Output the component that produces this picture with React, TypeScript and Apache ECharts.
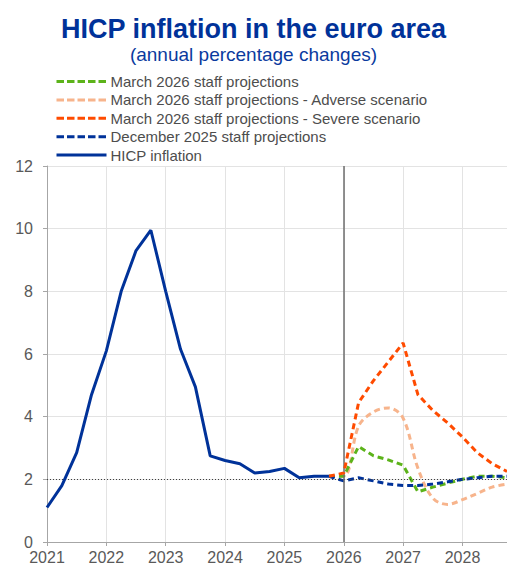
import React, { useEffect, useRef } from "react";
import * as echarts from "echarts";

// Quarterly observations, placed at the start of each quarter
const hicpStart = "2021Q1";
const hicpValues = [1.1, 1.8, 2.85, 4.7, 6.1, 8.0, 9.3, 9.95, 8.0, 6.15, 4.95, 2.75, 2.6, 2.5, 2.2, 2.25, 2.35, 2.05, 2.1, 2.1];

const projStart = "2025Q4";
const march2026 = [2.1, 2.1, 3.05, 2.75, 2.62, 2.45, 1.6, 1.75, 1.88, 2.0, 2.1, 2.1, 2.05];
const adverse = [2.1, 2.1, 3.7, 4.15, 4.28, 3.95, 2.35, 1.4, 1.2, 1.35, 1.55, 1.75, 1.85];
const severe = [2.1, 2.2, 4.45, 5.15, 5.75, 6.35, 4.7, 4.2, 3.8, 3.35, 2.85, 2.5, 2.25];
const december2025 = [2.1, 1.95, 2.05, 1.95, 1.85, 1.8, 1.8, 1.85, 1.92, 2.0, 2.05, 2.1, 2.1];

const seriesNames = [
  "March 2026 staff projections",
  "March 2026 staff projections - Adverse scenario",
  "March 2026 staff projections - Severe scenario",
  "December 2025 staff projections",
  "HICP inflation",
];
const colors = ["#5CB31A", "#F7B48C", "#FF4B00", "#003299", "#003299"];
const isDashed = [true, true, true, true, false];

const yTicks = [0, 2, 4, 6, 8, 10, 12];
const xYears = [2021, 2022, 2023, 2024, 2025, 2026, 2027, 2028];
const xMaxQuarter = "2028Q4";
const inflationTarget = 2;
const cutoffYear = 2026;

const title = "HICP inflation in the euro area";
const subtitle = "(annual percentage changes)";

function quarterPos(q: string): number {
  const y = parseInt(q.slice(0, 4), 10);
  const n = parseInt(q.slice(5), 10);
  return y + (n - 1) / 4;
}
function toPairs(start: string, vals: number[]): [number, number][] {
  const s = quarterPos(start);
  return vals.map((v, i) => [s + i / 4, v]);
}

const FONT = "'Liberation Sans', Arial, sans-serif";

export default function App() {
  const ref = useRef<HTMLDivElement>(null);
  useEffect(() => {
    if (!ref.current) return;
    const chart = echarts.init(ref.current, null, { renderer: "svg" });
    const dash = [6, 4];
    const option: any = {
      animation: false,
      textStyle: { fontFamily: FONT },
      title: [
        {
          text: title,
          left: "center",
          top: 15,
          padding: 0,
          textStyle: { fontSize: 27, fontWeight: "bold", color: "#003299", fontFamily: FONT },
        },
        {
          text: subtitle,
          left: "center",
          top: 45,
          padding: 0,
          textStyle: { fontSize: 19, fontWeight: "normal", color: "#0A3A9E", fontFamily: FONT },
        },
      ],
      legend: {
        orient: "vertical",
        left: 55,
        top: 74,
        padding: 0,
        itemWidth: 50,
        itemHeight: 14,
        itemGap: 3.4,
        data: seriesNames.map((name, i) => ({
          name,
          lineStyle: { width: 3, type: isDashed[i] ? [7.5, 3] : "solid" },
        })),
        itemStyle: { opacity: 0 },
        lineStyle: { width: 3 },
        textStyle: { fontSize: 15, color: "#4D4D4D", fontFamily: FONT, padding: [0, 0, 0, -1] },
      },
      grid: { left: 47, right: 0, top: 166, bottom: 29, containLabel: false },
      xAxis: {
        type: "value",
        min: xYears[0],
        max: quarterPos(xMaxQuarter),
        interval: 1,
        axisLine: { show: true, lineStyle: { color: "#A6A6A6", width: 1 } },
        axisTick: { show: true, length: 4, lineStyle: { color: "#A6A6A6" } },
        splitLine: { show: true, lineStyle: { color: "#E3E3E3", width: 1 } },
        axisLabel: {
          fontSize: 16,
          color: "#595959",
          margin: 7,
          showMaxLabel: false,
          formatter: (v: number) => (xYears.includes(v) ? String(v) : ""),
        },
      },
      yAxis: {
        type: "value",
        min: yTicks[0],
        max: yTicks[yTicks.length - 1],
        interval: 2,
        axisLine: { show: true, lineStyle: { color: "#A6A6A6", width: 1 } },
        axisTick: { show: true, length: 4, lineStyle: { color: "#A6A6A6" } },
        splitLine: { show: true, lineStyle: { color: "#E3E3E3", width: 1 } },
        axisLabel: { fontSize: 16, color: "#595959", margin: 14 },
      },
      series: [
        {
          name: seriesNames[1],
          type: "line",
          data: toPairs(projStart, adverse),
          symbol: "none",
          smooth: 0.35,
          lineStyle: { color: colors[1], width: 3, type: dash },
          itemStyle: { color: colors[1] },
          z: 2,
        },
        {
          name: seriesNames[0],
          type: "line",
          data: toPairs(projStart, march2026),
          symbol: "none",
          lineStyle: { color: colors[0], width: 3, type: dash },
          itemStyle: { color: colors[0] },
          z: 3,
        },
        {
          name: seriesNames[3],
          type: "line",
          data: toPairs(projStart, december2025),
          symbol: "none",
          lineStyle: { color: colors[3], width: 3, type: dash },
          itemStyle: { color: colors[3] },
          z: 4,
        },
        {
          name: seriesNames[2],
          type: "line",
          data: toPairs(projStart, severe),
          symbol: "none",
          lineStyle: { color: colors[2], width: 3, type: dash },
          itemStyle: { color: colors[2] },
          z: 5,
        },
        {
          name: seriesNames[4],
          type: "line",
          data: toPairs(hicpStart, hicpValues),
          symbol: "none",
          lineStyle: { color: colors[4], width: 3, type: "solid" },
          itemStyle: { color: colors[4] },
          z: 6,
          markLine: {
            silent: true,
            symbol: "none",
            label: { show: false },
            animation: false,
            data: [
              { yAxis: inflationTarget, lineStyle: { color: "#404040", width: 1, type: [1, 2] } },
              { xAxis: cutoffYear, lineStyle: { color: "#6E6E6E", width: 1.5, type: "solid" } },
            ],
          },
        },
      ],
    };
    chart.setOption(option);
    return () => chart.dispose();
  }, []);
  return (
    <div
      ref={ref}
      style={{ position: "absolute", left: 0, top: 0, width: 507, height: 571, background: "#fff" }}
    />
  );
}
